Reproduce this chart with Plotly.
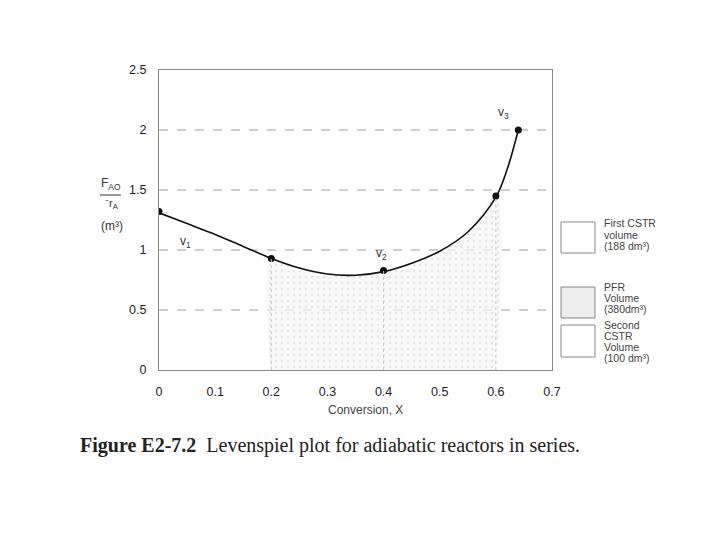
import plotly.graph_objects as go

# Data
curve_x = [0.0, 0.05, 0.1, 0.15, 0.2, 0.25, 0.3, 0.35, 0.4, 0.45, 0.5, 0.55, 0.6, 0.62, 0.64]
curve_y = [1.31, 1.22, 1.13, 1.03, 0.93, 0.85, 0.80, 0.79, 0.82, 0.89, 0.99, 1.15, 1.44, 1.67, 2.0]
point_x = [0.0, 0.2, 0.4, 0.6, 0.64]
point_y = [1.32, 0.93, 0.83, 1.45, 2.0]
x_ticks = [0, 0.1, 0.2, 0.3, 0.4, 0.5, 0.6, 0.7]
x_tick_text = ["0", "0.1", "0.2", "0.3", "0.4", "0.5", "0.6", "0.7"]
y_ticks = [0, 0.5, 1, 1.5, 2, 2.5]
y_tick_text = ["0", "0.5", "1", "1.5", "2", "2.5"]
grid_y = [0.5, 1, 1.5, 2]
pfr_start, pfr_end = 0.2, 0.6
labels = ["v<sub>1</sub>", "v<sub>2</sub>", "v<sub>3</sub>"]
label_x = [0.047, 0.397, 0.614]
label_y = [1.07, 0.97, 2.14]
legend_lines = [["First CSTR", "volume", "(188 dm³)"],
                ["PFR", "Volume", "(380dm³)"],
                ["Second", "CSTR", "Volume", "(100 dm³)"]]
caption_bold = "Figure E2-7.2"
caption_rest = "Levenspiel plot for adiabatic reactors in series."

FONT = "Liberation Sans, Arial, sans-serif"

# screen geometry of the plotting area (page has an 8px body offset)
L, R, T, B = 159, 552, 70, 370
OFF = 8
W, H = 720 - OFF, 540 - OFF


def px(sx):
    return (sx - L) / (R - L)


def py(sy):
    return (B - sy) / (B - T)


fig = go.Figure()

# PFR shaded region
fx = [x for x in curve_x if pfr_start <= x <= pfr_end]
fy = [y for x, y in zip(curve_x, curve_y) if pfr_start <= x <= pfr_end]
fig.add_trace(go.Scatter(
    x=[pfr_start] + fx + [pfr_end], y=[0] + fy + [0],
    mode="lines", line=dict(width=0, shape="spline"), fill="toself",
    fillcolor="rgba(245,245,245,0.6)",
    fillpattern=dict(shape=".", fgcolor="#d8d8d8", bgcolor="rgba(247,247,247,0.7)", size=6, solidity=0.18),
    hoverinfo="skip", showlegend=False))

# dashed horizontal grid lines
for gy in grid_y:
    fig.add_shape(type="line", xref="paper", yref="y", x0=0, x1=1, y0=gy, y1=gy,
                  line=dict(color="#9a9a9a", width=1, dash="dash"), layer="below")

# vertical dotted lines at reactor boundaries
for vx, vy in zip(point_x[1:4], point_y[1:4]):
    fig.add_shape(type="line", xref="x", yref="y", x0=vx, x1=vx, y0=0, y1=vy,
                  line=dict(color="#c4c4c4", width=1, dash="dot"))

# curve
fig.add_trace(go.Scatter(x=curve_x, y=curve_y, mode="lines", line=dict(color="#111", width=1.6, shape="spline"),
                         hoverinfo="skip", showlegend=False))
# points
fig.add_trace(go.Scatter(x=point_x, y=point_y, mode="markers", marker=dict(color="#111", size=7),
                         showlegend=False))

annotations = []
for t, lx, ly in zip(labels, label_x, label_y):
    annotations.append(dict(x=lx, y=ly, xref="x", yref="y", text=t, showarrow=False,
                            xanchor="center", yanchor="middle",
                            font=dict(family=FONT, size=12, color="#333")))

# legend boxes (screen pixels)
boxes = [(561, 595, 222, 253), (561, 595, 287, 318), (561, 595, 325, 357)]
line_ys = [[223, 235, 246], [287, 298, 309], [325, 336, 347, 358]]
for i, ((x0, x1, y0, y1), lines, ys) in enumerate(zip(boxes, legend_lines, line_ys)):
    fig.add_shape(type="rect", xref="paper", yref="paper", x0=px(x0), x1=px(x1), y0=py(y1), y1=py(y0),
                  line=dict(color="#888", width=1),
                  fillcolor="#ededed" if i == 1 else "white")
    for txt, sy in zip(lines, ys):
        annotations.append(dict(x=px(602), y=py(sy), xref="paper", yref="paper", text=txt, showarrow=False,
                                xanchor="left", yanchor="middle", align="left",
                                font=dict(family=FONT, size=10.5, color="#444")))

# y-axis title as fraction
annotations.append(dict(x=px(111), y=py(184), xref="paper", yref="paper", text="F<sub>AO</sub>",
                        showarrow=False, xanchor="center", yanchor="middle",
                        font=dict(family=FONT, size=12, color="#333")))
annotations.append(dict(x=px(112), y=py(204), xref="paper", yref="paper", text="⁻r<sub>A</sub>",
                        showarrow=False, xanchor="center", yanchor="middle",
                        font=dict(family=FONT, size=11, color="#333")))
annotations.append(dict(x=px(112), y=py(226), xref="paper", yref="paper", text="(m³)",
                        showarrow=False, xanchor="center", yanchor="middle",
                        font=dict(family=FONT, size=12, color="#333")))
fig.add_shape(type="line", xref="paper", yref="paper", x0=px(100), x1=px(121), y0=py(195), y1=py(195),
              line=dict(color="#333", width=1))

# x-axis title
annotations.append(dict(x=px(365), y=py(410), xref="paper", yref="paper", text="Conversion, X",
                        showarrow=False, xanchor="center", yanchor="middle",
                        font=dict(family=FONT, size=12, color="#444")))
# caption
annotations.append(dict(x=px(78), y=py(445), xref="paper", yref="paper",
                        text="<b>" + caption_bold + "</b>  " + caption_rest,
                        showarrow=False, xanchor="left", yanchor="middle",
                        font=dict(family="Liberation Serif, Times New Roman, serif", size=20, color="#222")))

fig.update_layout(
    width=W, height=H,
    margin=dict(l=L - OFF, r=W - (R - OFF), t=T - OFF, b=H - (B - OFF)),
    paper_bgcolor="white", plot_bgcolor="white",
    annotations=annotations,
    xaxis=dict(range=[0, 0.7], tickvals=x_ticks, ticktext=x_tick_text, showgrid=False, zeroline=False,
               showline=True, mirror=True, linecolor="#888", linewidth=1, ticks="",
               ticklabelstandoff=10,
               tickfont=dict(family=FONT, size=12.5, color="#222")),
    yaxis=dict(range=[0, 2.5], tickvals=y_ticks, ticktext=y_tick_text, showgrid=False, zeroline=False,
               showline=True, mirror=True, linecolor="#888", linewidth=1, ticks="",
               ticklabelstandoff=9,
               tickfont=dict(family=FONT, size=12.5, color="#222")),
)

fig.write_html("out.html")
